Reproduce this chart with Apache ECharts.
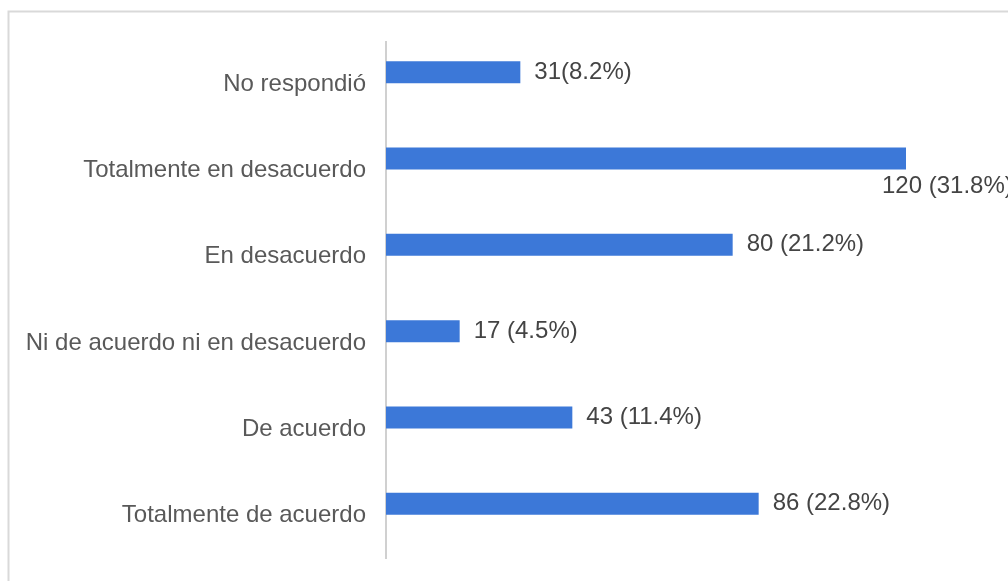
<!DOCTYPE html>
<html>
<head>
<meta charset="utf-8">
<script src="https://cdn.jsdelivr.net/npm/echarts@6/dist/echarts.min.js"></script>
<style>
html,body{margin:0;padding:0;background:#fff;}
#chart{width:1008px;height:581px;}
</style>
</head>
<body>
<div id="chart"></div>
<script>
const categories = ["No respondió", "Totalmente en desacuerdo", "En desacuerdo", "Ni de acuerdo ni en desacuerdo", "De acuerdo", "Totalmente de acuerdo"];
const values = [31, 120, 80, 17, 43, 86];
const valueLabels = ["31(8.2%)", "120 (31.8%)", "80 (21.2%)", "17 (4.5%)", "43 (11.4%)", "86 (22.8%)"];
const belowLabelIndex = 1;

const FONT = "'Liberation Sans', Arial, sans-serif";
const chart = echarts.init(document.getElementById('chart'), null, {renderer: 'canvas'});

const seriesData = values.map((v, i) => {
  const item = {value: v};
  if (i === belowLabelIndex) {
    item.label = {position: ['100%', '100%'], align: 'left', verticalAlign: 'top', offset: [-24, 5]};
  }
  return item;
});

chart.setOption({
  animation: false,
  backgroundColor: '#ffffff',
  graphic: [{
    type: 'rect',
    left: 6, top: 9,
    shape: {width: 1100, height: 700},
    style: {fill: 'none', stroke: '#d9d9d9', lineWidth: 2},
    silent: true
  }, {
    type: 'line',
    shape: {x1: 386, y1: 41, x2: 386, y2: 559},
    style: {stroke: '#d0d0d0', lineWidth: 2},
    silent: true
  }],
  grid: {left: 386, right: 102, top: 29, bottom: 34, containLabel: false},
  xAxis: {
    type: 'value', min: 0, max: 120, show: false
  },
  yAxis: {
    type: 'category',
    data: categories,
    inverse: true,
    axisTick: {show: false},
    axisLine: {show: false},
    axisLabel: {color: '#595959', fontSize: 24, fontFamily: FONT, margin: 20, verticalAlign: 'top', lineHeight: 24},
    splitLine: {show: false}
  },
  series: [{
    type: 'bar',
    data: seriesData,
    barWidth: 22,
    itemStyle: {color: '#3c78d8'},
    label: {
      show: true,
      position: 'right',
      distance: 14,
      color: '#444444',
      fontSize: 24,
      fontFamily: FONT,
      formatter: (p) => valueLabels[p.dataIndex]
    }
  }]
});
</script>
</body>
</html>
